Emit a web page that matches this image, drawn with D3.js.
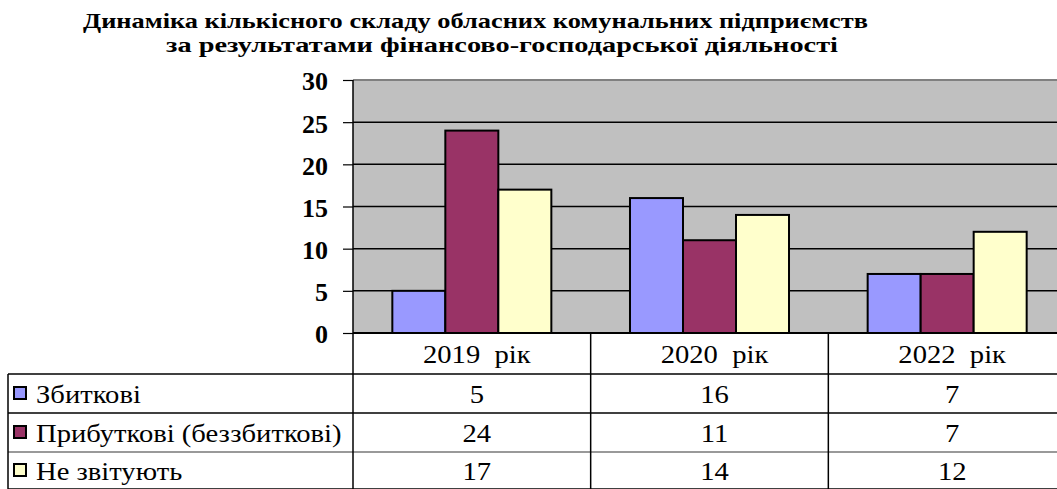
<!DOCTYPE html>
<html>
<head>
<meta charset="utf-8">
<script src="https://cdn.jsdelivr.net/npm/d3@7"></script>
<style>
  body { margin: 0; background: #fff; }
  svg, svg text { font-family: "Liberation Serif", "Times New Roman", "DejaVu Serif", serif; }
  svg { display: block; }
</style>
</head>
<body>
<script>
const categories = ["2019  рік", "2020  рік", "2022  рік"];
const seriesNames = ["Збиткові", "Прибуткові (беззбиткові)", "Не звітують"];
const seriesColors = ["#9999ff", "#993366", "#ffffcc"];
const lossMaking = [5, 16, 7];
const profitable = [24, 11, 7];
const notReporting = [17, 14, 12];
const yTicks = [0, 5, 10, 15, 20, 25, 30];
const titleLines = [
  "Динаміка кількісного складу обласних комунальних підприємств",
  "за результатами фінансово-господарської діяльності"
];

const values = [lossMaking, profitable, notReporting];

const width = 1057, height = 489;
const plotL = 353, plotR = 1066, plotT = 80, plotB = 333;
const rowY = [333, 374, 413, 452, 489];
const serif = "'Liberation Serif', 'Times New Roman', 'DejaVu Serif', serif";
const stretch = 1.1;

const svg = d3.select("body").append("svg")
  .attr("width", width)
  .attr("height", height)
  .attr("font-family", serif);

// title
svg.append("text")
  .attr("x", 83).attr("y", 28)
  .attr("textLength", 785)
  .attr("lengthAdjust", "spacingAndGlyphs")
  .style("font-size", "22px").style("font-weight", "bold")
  .text(titleLines[0]);
svg.append("text")
  .attr("x", 166).attr("y", 52)
  .attr("textLength", 672)
  .attr("lengthAdjust", "spacingAndGlyphs")
  .style("font-size", "22px").style("font-weight", "bold")
  .text(titleLines[1]);

const x0 = d3.scaleBand().domain(categories).range([plotL, plotR]);
const x1 = d3.scaleBand().domain(d3.range(seriesNames.length))
  .range([0, x0.bandwidth()]).paddingOuter(0.742);
const y = d3.scaleLinear().domain([0, 30]).range([plotB, plotT]);

// plot background
svg.append("rect")
  .attr("x", plotL).attr("y", plotT)
  .attr("width", plotR - plotL).attr("height", plotB - plotT)
  .attr("fill", "#c0c0c0");

// gridlines
svg.append("g")
  .selectAll("line")
  .data(yTicks.filter(d => d > 0 && d < 30))
  .join("line")
  .attr("x1", plotL).attr("x2", plotR)
  .attr("y1", d => y(d)).attr("y2", d => y(d))
  .attr("stroke", "#000").attr("stroke-width", 1.5);

svg.append("line")
  .attr("x1", plotL).attr("x2", plotR)
  .attr("y1", y(30)).attr("y2", y(30))
  .attr("stroke", "#808080").attr("stroke-width", 2);

// bars
svg.append("g")
  .selectAll("g")
  .data(categories)
  .join("g")
  .attr("transform", d => `translate(${x0(d)},0)`)
  .selectAll("rect")
  .data((d, i) => values.map((s, j) => ({ j, v: s[i] })))
  .join("rect")
  .attr("x", d => x1(d.j))
  .attr("y", d => y(d.v))
  .attr("width", x1.bandwidth())
  .attr("height", d => y(0) - y(d.v))
  .attr("fill", d => seriesColors[d.j])
  .attr("stroke", "#000")
  .attr("stroke-width", 2);

// y axis
const yAxis = svg.append("g")
  .attr("transform", `translate(${plotL},0)`)
  .call(d3.axisLeft(y).tickValues(yTicks).tickSize(10).tickPadding(15))
  .attr("font-family", serif);
yAxis.select(".domain").remove();
yAxis.selectAll(".tick line").attr("stroke", "#000").attr("stroke-width", 1.2);
yAxis.selectAll(".tick text")
  .attr("fill", "#000")
  .attr("dy", "0.38em")
  .style("font-size", "26px").style("font-weight", "bold");

// axis lines
svg.append("line")
  .attr("x1", plotL).attr("x2", plotL)
  .attr("y1", plotT).attr("y2", rowY[1])
  .attr("stroke", "#000").attr("stroke-width", 1.5);
svg.append("line")
  .attr("x1", plotL).attr("x2", plotR)
  .attr("y1", plotB).attr("y2", plotB)
  .attr("stroke", "#000").attr("stroke-width", 2);

// data table
const table = svg.append("g");
table.selectAll("line.h")
  .data(rowY.slice(1))
  .join("line")
  .attr("x1", 8).attr("x2", width)
  .attr("y1", d => d).attr("y2", d => d)
  .attr("stroke", (d, i) => i === 2 ? "#777" : "#000")
  .attr("stroke-width", 1.5);
table.append("line")
  .attr("x1", 8).attr("x2", 8)
  .attr("y1", rowY[1]).attr("y2", rowY[4])
  .attr("stroke", "#000").attr("stroke-width", 1.5);
table.append("line")
  .attr("x1", plotL).attr("x2", plotL)
  .attr("y1", rowY[1]).attr("y2", rowY[4])
  .attr("stroke", "#000").attr("stroke-width", 1.5);
table.selectAll("line.v")
  .data(categories.slice(1))
  .join("line")
  .attr("x1", d => x0(d)).attr("x2", d => x0(d))
  .attr("y1", rowY[0]).attr("y2", rowY[4])
  .attr("stroke", "#000").attr("stroke-width", 1.5);

function cellText(g, x, yy, txt, anchor) {
  g.append("text")
    .attr("transform", `translate(${x},${yy}) scale(${stretch},1)`)
    .attr("text-anchor", anchor)
    .style("font-size", "26px")
    .style("white-space", "pre")
    .text(txt);
}

categories.forEach(c => {
  cellText(table, x0(c) + x0.bandwidth() / 2 + 5, (rowY[0] + rowY[1]) / 2 + 9, c, "middle");
});

seriesNames.forEach((name, j) => {
  const cy = (rowY[j + 1] + rowY[j + 2]) / 2;
  table.append("rect")
    .attr("x", 14).attr("y", cy - 6.5)
    .attr("width", 12).attr("height", 12)
    .attr("fill", seriesColors[j])
    .attr("stroke", "#000").attr("stroke-width", 2);
  cellText(table, 36, cy + 9, name, "start");
  categories.forEach((c, i) => {
    cellText(table, x0(c) + x0.bandwidth() / 2 + 5, cy + 9, values[j][i], "middle");
  });
});
</script>
</body>
</html>
